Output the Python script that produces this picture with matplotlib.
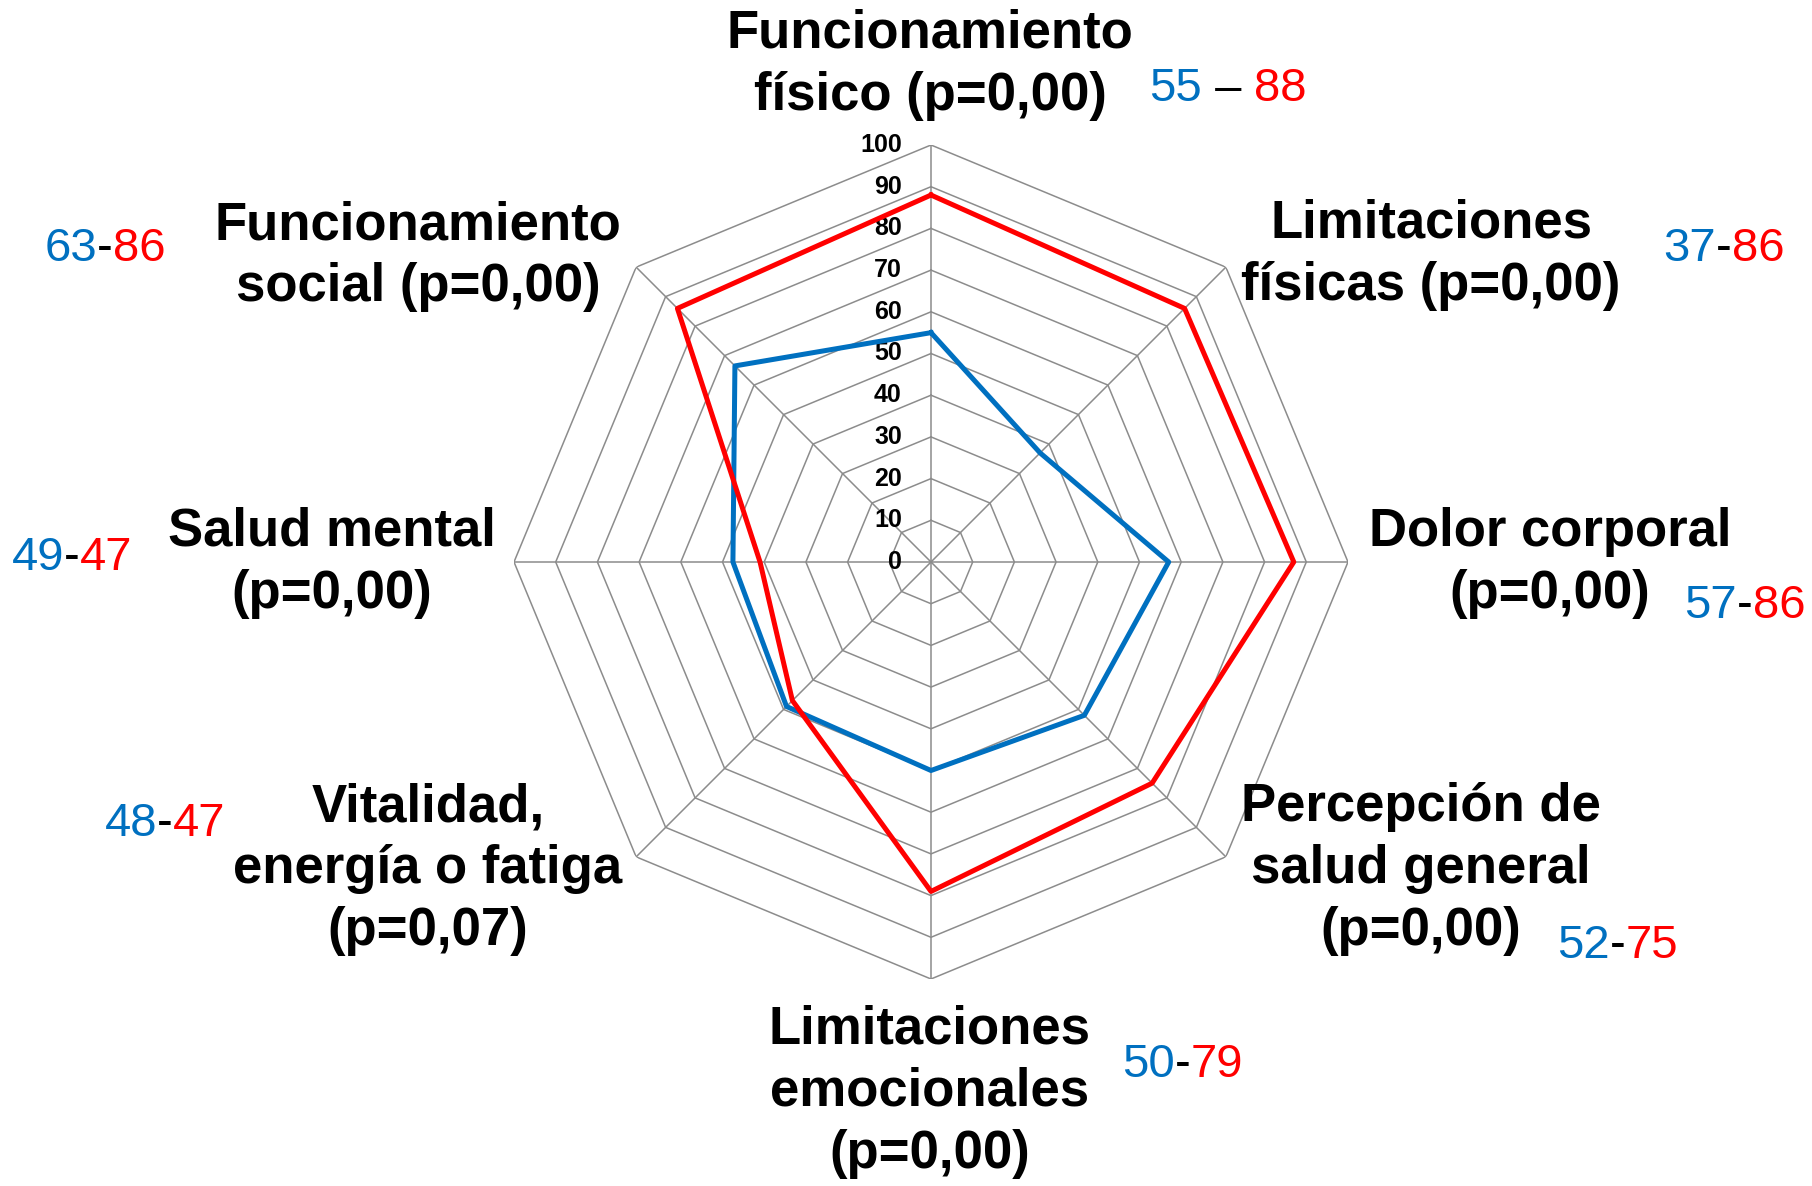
import numpy as np
import matplotlib
matplotlib.use('Agg')
from matplotlib import pyplot as plt

plt.rcParams['font.family'] = ['Liberation Sans', 'DejaVu Sans']

# 维度名称（从正上方顺时针）
categories = ['Funcionamiento\nfísico (p=0,00)',
              'Limitaciones\nfísicas (p=0,00)',
              'Dolor corporal\n(p=0,00)',
              'Percepción de\nsalud general\n(p=0,00)',
              'Limitaciones\nemocionales\n(p=0,00)',
              'Vitalidad,\nenergía o fatiga\n(p=0,07)',
              'Salud mental\n(p=0,00)',
              'Funcionamiento\nsocial (p=0,00)']
# 图中折线的取值
blue_vals = [55, 37, 57, 52, 50, 49, 47.5, 66.5]
red_vals = [88, 86, 87, 75, 79, 47, 41, 86]
# 图中标注的数字
blue_text = ['55', '37', '57', '52', '50', '48', '49', '63']
red_text = ['88', '86', '86', '75', '79', '47', '47', '86']
ticks = list(range(0, 101, 10))

BLUE = '#0070C0'
RED = '#FF0000'

W, H = 1812, 1186
cx, cy, R = 931, 562, 417

fig = plt.figure(figsize=(W / 100, H / 100), dpi=100)
ax = fig.add_axes([(cx - R) / W, (H - cy - R) / H, 2 * R / W, 2 * R / H], projection='polar')
ax.set_theta_offset(np.pi / 2)
ax.set_theta_direction(-1)
ax.set_ylim(0, 100)
ax.axis('off')

n = len(categories)
theta = np.linspace(0, 2 * np.pi, n, endpoint=False)
theta_c = np.append(theta, theta[0])

# 网格（八边形）
for t in ticks[1:]:
    ax.plot(theta_c, [t] * (n + 1), color='#8c8c8c', lw=1.1, zorder=1)
for th in theta:
    ax.plot([th, th], [0, 100], color='#8c8c8c', lw=1.1, zorder=1)

# 刻度
for t in ticks:
    ax.annotate(str(t), xy=(0, t), xytext=(-21, 0), textcoords='offset points',
                ha='right', va='center', fontsize=18, fontweight='bold')

# 数据
ax.plot(theta_c, blue_vals + [blue_vals[0]], color=BLUE, lw=3.6, zorder=3)
ax.plot(theta_c, red_vals + [red_vals[0]], color=RED, lw=3.6, zorder=4)

# 维度标签位置（像素），逐行绘制
label_pos = [(930, 65), (1431, 255), (1550, 563), (1421, 869),
             (930, 1092), (428, 869), (332, 563), (418, 256)]
line_h = 62
for lab, (x, y) in zip(categories, label_pos):
    lines = lab.split('\n')
    k = len(lines)
    for j, s in enumerate(lines):
        yy = y + (j - (k - 1) / 2) * line_h
        fig.text(x / W, 1 - yy / H, s, ha='center', va='center', fontsize=38,
                 fontweight='bold')

# 两组数值
pair_pos = [(1228, 89), (1724, 249), (1745, 606), (1618, 946),
            (1183, 1065), (165, 824), (72, 558), (105, 249)]
fig.canvas.draw()
renderer = fig.canvas.get_renderer()
for i, (x, y) in enumerate(pair_pos):
    sep = ' – ' if i == 0 else '-'
    parts = [(blue_text[i], BLUE), (sep, 'black'), (red_text[i], RED)]
    objs = []
    for s, c in parts:
        objs.append(fig.text(0, 1 - y / H, s, color=c, fontsize=34, ha='left', va='center'))
    widths = [o.get_window_extent(renderer).width for o in objs]
    x0 = x - sum(widths) / 2
    for o, w in zip(objs, widths):
        o.set_x(x0 / W)
        x0 += w

fig.savefig('out.png', dpi=100)
